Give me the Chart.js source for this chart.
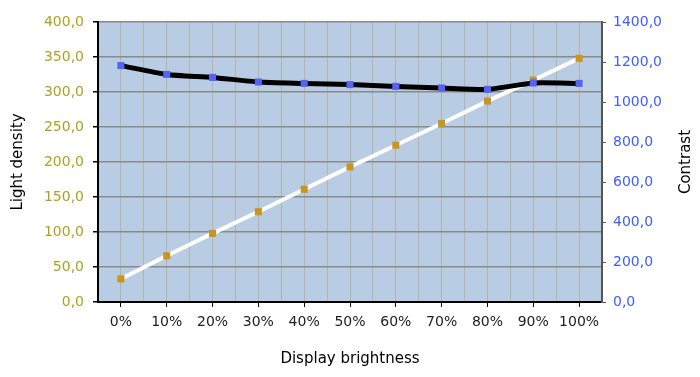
<!DOCTYPE html>
<html>
<head>
<meta charset="utf-8">
<script src="https://cdn.jsdelivr.net/npm/chart.js@4"></script>
<style>
  html, body { margin: 0; padding: 0; background: #fff; }
  #wrap { width: 700px; height: 377px; }
</style>
</head>
<body>
<div id="wrap"><canvas id="chart"></canvas></div>
<script>
// data
var brightness = ["0%", "10%", "20%", "30%", "40%", "50%", "60%", "70%", "80%", "90%", "100%"];
var lightDensity = [33, 66, 98, 129, 161, 193, 224, 255, 287, 317, 348];
var contrast = [1182, 1138, 1123, 1100, 1093, 1087, 1078, 1070, 1063, 1095, 1093];

var densityMin = 0, densityMax = 400, densityStep = 50;
var contrastMin = 0, contrastMax = 1400, contrastStep = 200;

var font = { family: "'DejaVu Sans', sans-serif", size: 14 };
var titleFont = { family: "'DejaVu Sans', sans-serif", size: 15 };

function commaLabel(v) {
    return v.toFixed(1).replace('.', ',');
}

var plotBg = {
    id: 'plotBg',
    beforeDraw: function (chart) {
        var a = chart.chartArea, ctx = chart.ctx;
        ctx.save();
        ctx.fillStyle = '#b8cce4';
        ctx.fillRect(a.left, a.top, a.right - a.left, a.bottom - a.top);
        ctx.restore();
    },
    afterDraw: function (chart) {
        // right axis title, reading bottom to top
        var ctx = chart.ctx, a = chart.chartArea;
        ctx.save();
        ctx.translate(686, (a.top + a.bottom) / 2);
        ctx.rotate(-Math.PI / 2);
        ctx.font = "15px 'DejaVu Sans', sans-serif";
        ctx.fillStyle = '#000';
        ctx.textAlign = 'center';
        ctx.textBaseline = 'middle';
        ctx.fillText('Contrast', 0, 0);
        ctx.restore();
    }
};

new Chart(document.getElementById("chart"), {
    type: 'line',
    data: {
        labels: brightness,
        datasets: [
            {
                label: "Contrast",
                data: contrast,
                yAxisID: 'y2',
                borderColor: '#000000',
                borderWidth: 5,
                tension: 0.2,
                pointStyle: 'rect',
                pointRadius: 5,
                pointBackgroundColor: '#5565f0',
                pointBorderColor: '#5565f0',
                pointBorderWidth: 0
            },
            {
                label: "Light density",
                data: lightDensity,
                yAxisID: 'y',
                borderColor: '#ffffff',
                borderWidth: 4,
                tension: 0,
                pointStyle: 'rect',
                pointRadius: 5,
                pointBackgroundColor: '#c8961e',
                pointBorderColor: '#c8961e',
                pointBorderWidth: 0
            }
        ]
    },
    options: {
        responsive: true,
        maintainAspectRatio: false,
        animation: false,
        layout: { padding: { top: 22, left: 0, right: 0, bottom: 0 } },
        plugins: {
            legend: { display: false },
            tooltip: { enabled: false }
        },
        scales: {
            x: {
                position: 'bottom',
                offset: true,
                grid: { offset: false, color: '#b9b2a3', lineWidth: 1, tickColor: '#000', tickLength: 5 },
                border: { color: '#000', width: 2 },
                ticks: { color: '#222', font: font, padding: 7, maxRotation: 0 },
                title: { display: true, text: 'Display brightness', color: '#000', font: titleFont, padding: { top: 0, bottom: 9 } },
                afterFit: function (s) { s.height = 75; }
            },
            x2: {
                position: 'bottom',
                labels: brightness,
                offset: true,
                grid: { offset: true, color: '#b9b2a3', lineWidth: 1, drawTicks: false },
                border: { display: false },
                ticks: { display: false },
                afterFit: function (s) { s.height = 0; }
            },
            y: {
                position: 'left',
                min: densityMin,
                max: densityMax,
                ticks: { stepSize: densityStep, color: '#aaa31e', font: font, padding: 9, callback: commaLabel },
                grid: { color: '#8a8a8a', lineWidth: 1.5, tickColor: '#000', tickLength: 5 },
                border: { color: '#000', width: 2 },
                title: { display: true, text: 'Light density', color: '#000', font: titleFont, padding: { top: 9, bottom: 0 } },
                afterFit: function (s) { s.width = 98; }
            },
            y2: {
                position: 'right',
                min: contrastMin,
                max: contrastMax,
                ticks: { stepSize: contrastStep, color: '#3f5cff', font: font, padding: 7, callback: commaLabel },
                grid: { drawOnChartArea: false, tickColor: '#555', tickLength: 4 },
                border: { color: '#555', width: 2 },
                afterFit: function (s) { s.width = 98; }
            }
        }
    },
    plugins: [plotBg]
});
</script>
</body>
</html>
